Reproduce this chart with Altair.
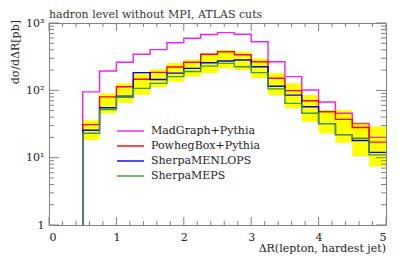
import altair as alt
import pandas as pd

# ---- data ----
edges = [0.5, 0.75, 1.0, 1.25, 1.5, 1.75, 2.0, 2.25, 2.5, 2.75, 3.0,
         3.25, 3.5, 3.75, 4.0, 4.25, 4.5, 4.75, 5.0]
series_names = ["MadGraph+Pythia", "PowhegBox+Pythia", "SherpaMENLOPS", "SherpaMEPS"]
series_colors = ["#ee22ee", "#ff0000", "#0000ee", "#3a9a3a"]

madgraph = [95, 194, 261, 343, 402, 510, 593, 675, 720, 680, 528, 266, 160, 101, 67, 45.6, 32, 20]
powheg = [31, 80, 113, 146, 185, 222, 261, 343, 375, 338, 266, 151, 99, 70, 48, 37, 28, 17]
menlops = [25.5, 55, 82, 183, 145, 180, 212, 257, 273, 282, 224, 115, 85, 57, 32, 22, 18, 12]
meps = [23, 52, 79, 107, 127, 160, 190, 229, 251, 224, 183, 105, 64, 45.6, 32, 22, 19.4, 11]

band_lo = [18.3, 45.6, 65, 86, 112, 134, 160, 180, 212, 200, 152, 85, 54, 34, 23, 16.7, 10.6, 7.4]
band_hi = [36, 90, 127, 180, 205, 255, 285, 355, 398, 375, 298, 180, 127, 85, 51, 51, 34, 29]

x_ticks_minor = [round(0.2 * k, 2) for k in range(26)]
x_ticks_major = [0, 1, 2, 3, 4, 5]
y_ticks_major = [1, 10, 100, 1000]
y_ticks_minor = [m * d for d in [1, 10, 100] for m in range(2, 10)]

title = "hadron level without MPI, ATLAS cuts"
y_title = "dσ/dΔR[pb]"
x_title = "ΔR(lepton, hardest jet)"

W, H = 337, 202
FONT = "DejaVu Serif"
FS = 11
FRAME = "#808080"

# ---- tables ----
band_df = pd.DataFrame({"x": edges[:-1], "x2": edges[1:], "lo": band_lo, "hi": band_hi})

rows = []
all_vals = [madgraph, powheg, menlops, meps]
for i, (name, vals) in enumerate(zip(series_names, all_vals)):
    xs = [0.25] + edges
    ys = [0.3] + vals + [vals[-1]]
    for x, y in zip(xs, ys):
        rows.append({"series": name, "order": i, "x": x, "y": y})
line_df = pd.DataFrame(rows)

xscale = alt.Scale(domain=[0, 5], nice=False, zero=False)
yscale = alt.Scale(type="log", domain=[1, 1000], nice=False)

band = alt.Chart(band_df).mark_rect(color="#ffff00", clip=True).encode(
    x=alt.X("x:Q", scale=xscale,
            axis=alt.Axis(values=x_ticks_major, format="d", ticks=False, domain=False, grid=False,
                          labelFont=FONT, labelFontSize=FS, labelColor="#222", labelPadding=6,
                          title=None)),
    x2="x2:Q",
    y=alt.Y("lo:Q", scale=yscale,
            axis=alt.Axis(values=y_ticks_major, ticks=False, domain=False, grid=False,
                          labelExpr="datum.value == 1 ? '1' : datum.value == 10 ? '10¹' : datum.value == 100 ? '10²' : '10³'",
                          labelFont=FONT, labelFontSize=FS, labelColor="#222", labelPadding=5,
                          title=None)),
    y2="hi:Q",
)

layers = [band]
for name, vals, col in zip(series_names, all_vals, series_colors):
    layers.append(alt.Chart(line_df[line_df.series == name]).mark_line(
        interpolate="step-after", strokeWidth=1.4, clip=True, color=col).encode(
        x=alt.X("x:Q", scale=xscale), y=alt.Y("y:Q", scale=yscale)))

# inward ticks
xt_min = pd.DataFrame({"v": [v for v in x_ticks_minor if v not in x_ticks_major]})
xt_maj = pd.DataFrame({"v": x_ticks_major})
yt_min = pd.DataFrame({"v": y_ticks_minor})
yt_maj = pd.DataFrame({"v": y_ticks_major})
for df, L in [(xt_min, 4), (xt_maj, 8)]:
    layers.append(alt.Chart(df).mark_rule(color=FRAME, strokeWidth=1).encode(
        x=alt.X("v:Q", scale=xscale), y=alt.value(H), y2=alt.value(H - L)))
    layers.append(alt.Chart(df).mark_rule(color=FRAME, strokeWidth=1).encode(
        x=alt.X("v:Q", scale=xscale), y=alt.value(0), y2=alt.value(L)))
for df, L in [(yt_min, 5), (yt_maj, 10)]:
    layers.append(alt.Chart(df).mark_rule(color=FRAME, strokeWidth=1).encode(
        y=alt.Y("v:Q", scale=yscale), x=alt.value(0), x2=alt.value(L)))
    layers.append(alt.Chart(df).mark_rule(color=FRAME, strokeWidth=1).encode(
        y=alt.Y("v:Q", scale=yscale), x=alt.value(W), x2=alt.value(W - L)))

# legend
for i, (name, col) in enumerate(zip(series_names, series_colors)):
    ly = 108 + 15 * i
    ldf = pd.DataFrame({"name": [name]})
    layers.append(alt.Chart(ldf).mark_rule(color=col, strokeWidth=1.4).encode(
        x=alt.value(68), x2=alt.value(95), y=alt.value(ly)))
    layers.append(alt.Chart(ldf).mark_text(align="left", baseline="middle", font=FONT,
                                           fontSize=FS, color="#222").encode(
        x=alt.value(102), y=alt.value(ly), text="name:N"))

# titles as text marks
tdf = pd.DataFrame({"t": [title], "yt": [y_title], "xt": [x_title]})
layers.append(alt.Chart(tdf).mark_text(align="left", baseline="middle", font=FONT,
                                       fontSize=FS, color="#333").encode(
    x=alt.value(0), y=alt.value(-8), text="t:N"))
layers.append(alt.Chart(tdf).mark_text(align="right", baseline="middle", font=FONT,
                                       fontSize=FS, color="#222", angle=270).encode(
    x=alt.value(-33), y=alt.value(-3), text="yt:N"))
layers.append(alt.Chart(tdf).mark_text(align="right", baseline="middle", font=FONT,
                                       fontSize=FS, color="#222").encode(
    x=alt.value(W), y=alt.value(H + 24), text="xt:N"))

chart = alt.layer(*layers).properties(
    width=W, height=H,
    padding={"left": 41, "top": 15, "right": 5, "bottom": 34},
    autosize=alt.AutoSizeParams(type="none"),
).configure_view(stroke=FRAME, strokeWidth=1)

chart.save("out.html", embed_options={"renderer": "svg", "actions": False})
